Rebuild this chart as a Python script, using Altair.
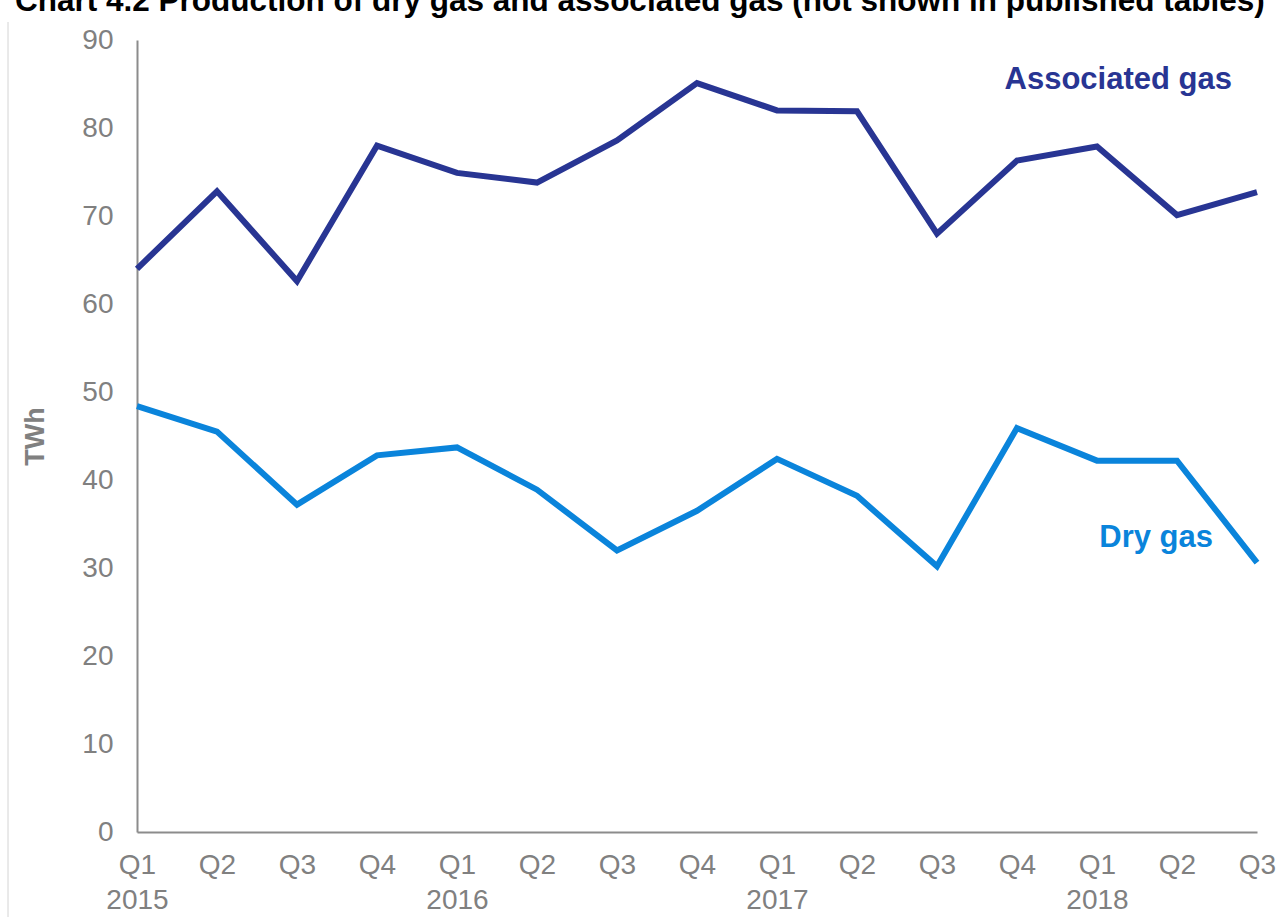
import altair as alt
import pandas as pd

quarters = ["2015 Q1", "2015 Q2", "2015 Q3", "2015 Q4",
            "2016 Q1", "2016 Q2", "2016 Q3", "2016 Q4",
            "2017 Q1", "2017 Q2", "2017 Q3", "2017 Q4",
            "2018 Q1", "2018 Q2", "2018 Q3"]
associated_gas = [64.0, 72.8, 62.6, 78.0, 74.9, 73.8, 78.6, 85.1,
                  82.0, 81.9, 68.0, 76.3, 77.9, 70.1, 72.7]
dry_gas = [48.4, 45.5, 37.2, 42.8, 43.7, 38.9, 32.0, 36.5,
           42.4, 38.2, 30.2, 45.9, 42.2, 42.2, 30.6]
series_names = ["Associated gas", "Dry gas"]
series_colors = ["#283593", "#0a84db"]
y_ticks = [0, 10, 20, 30, 40, 50, 60, 70, 80, 90]
title_text = "Chart 4.2 Production of dry gas and associated gas (not shown in published tables)"

rows = []
for q, a, d in zip(quarters, associated_gas, dry_gas):
    rows.append({"quarter": q, "series": series_names[0], "value": a})
    rows.append({"quarter": q, "series": series_names[1], "value": d})
df = pd.DataFrame(rows)

label_df = pd.DataFrame({
    "quarter": ["2018 Q3", "2018 Q3"],
    "series": series_names,
    "value": [85.4, 33.4],
})

x_enc = alt.X(
    "quarter:O",
    sort=quarters,
    scale=alt.Scale(type="point", padding=0),
    axis=alt.Axis(
        title=None,
        labelAngle=0,
        labelExpr="indexof(datum.value, 'Q1') >= 0 ? [substring(datum.value, 5), substring(datum.value, 0, 4)] : substring(datum.value, 5)",
        labelFont="Liberation Sans",
        labelFontSize=28,
        labelColor="#808080",
        labelLineHeight=35,
        labelPadding=19,
        labelBaseline="top",
        ticks=False,
        domainColor="#8c8c8c",
        domainWidth=2,
        grid=False,
    ),
)

y_enc = alt.Y(
    "value:Q",
    scale=alt.Scale(domain=[0, 90], nice=False, zero=True),
    axis=alt.Axis(
        title="TWh",
        values=y_ticks,
        labelFont="Liberation Sans",
        labelFontSize=28,
        labelColor="#808080",
        labelPadding=24,
        ticks=False,
        domainColor="#8c8c8c",
        domainWidth=2,
        grid=False,
        titleFont="Liberation Sans",
        titleFontSize=27,
        titleFontWeight="bold",
        titleColor="#808080",
        titleX=-102,
        titleY=396,
        titleAngle=-90,
        titleAlign="center",
        titleBaseline="middle",
    ),
)

color_scale = alt.Scale(domain=series_names, range=series_colors)

lines = alt.Chart(df).mark_line(strokeWidth=6, strokeJoin="miter").encode(
    x=x_enc,
    y=y_enc,
    color=alt.Color("series:N", scale=color_scale, legend=None),
)

labels = alt.Chart(label_df).mark_text(
    font="Liberation Sans", fontSize=31, fontWeight="bold", align="right", baseline="middle"
).encode(
    x=alt.X("quarter:O", sort=quarters),
    y=alt.Y("value:Q"),
    text="series:N",
    color=alt.Color("series:N", scale=color_scale, legend=None),
)

labels_assoc = labels.transform_filter(alt.datum.series == series_names[0]).mark_text(
    font="Liberation Sans", fontSize=31, fontWeight="bold", align="right", baseline="middle", dx=-25
)
labels_dry = labels.transform_filter(alt.datum.series == series_names[1]).mark_text(
    font="Liberation Sans", fontSize=31, fontWeight="bold", align="right", baseline="middle", dx=-44
)

title_mark = alt.Chart(pd.DataFrame({"t": [title_text]})).mark_text(
    font="Liberation Sans", fontSize=31.5, fontWeight="bold", align="left",
    baseline="alphabetic", color="#000000"
).encode(text="t:N", x=alt.value(-122), y=alt.value(-29))

border = alt.Chart(pd.DataFrame({"a": [0]})).mark_rule(color="#d4d4d4", strokeWidth=1).encode(
    x=alt.value(-129), y=alt.value(-18), y2=alt.value(877)
)

chart = alt.layer(border, title_mark, lines, labels_assoc, labels_dry).properties(
    width=1120,
    height=792,
    padding={"left": 137, "top": 40, "right": 23, "bottom": 85},
    autosize=alt.AutoSizeParams(type="none"),
    background="white",
).configure_view(stroke=None)

chart.save("out.html", embed_options={"renderer": "svg", "actions": False})
